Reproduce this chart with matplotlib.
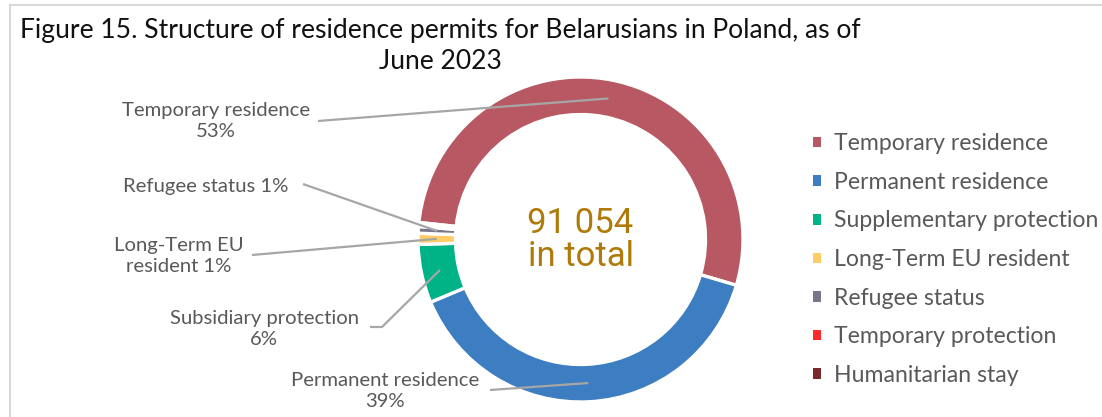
import matplotlib
matplotlib.use("Agg")
import matplotlib.pyplot as plt
import numpy as np
from matplotlib.lines import Line2D

# data
categories = ["Temporary residence", "Permanent residence", "Supplementary protection",
              "Long-Term EU resident", "Refugee status", "Temporary protection",
              "Humanitarian stay"]
counts = [48150, 35650, 5300, 1000, 600, 254, 100]
colors = ["#B85862", "#3D7DC1", "#00B386", "#FFCC66", "#777788", "#FF2A2A", "#7A2A2A"]
total_text = "91 054\nin total"
title = "Figure 15. Structure of residence permits for Belarusians in Poland, as of\nJune 2023"

# labelled slices: index -> text
slice_labels = {
    0: "Temporary residence\n53%",
    4: "Refugee status 1%",
    3: "Long-Term EU\nresident 1%",
    2: "Subsidiary protection\n6%",
    1: "Permanent residence\n39%",
}

W, H = 1102, 417
plt.rcParams['font.family'] = ['Lato', 'DejaVu Sans']
fig = plt.figure(figsize=(W / 100, H / 100), dpi=100)
ax = fig.add_axes([0, 0, 1, 1])


def Y(y):
    return H - y


cx, cy, R, ring = 580.5, Y(239.5), 162.5, 37.5
wedges, _ = ax.pie(counts, colors=colors, startangle=174, counterclock=False,
                   center=(cx, cy), radius=R,
                   wedgeprops=dict(width=ring, edgecolor="white", linewidth=2.4))
ax.set_xlim(0, W)
ax.set_ylim(0, H)
ax.set_aspect("equal")
ax.axis("off")

# text positions (px) and leader line start points
label_pos = {0: (216, 121), 4: (206, 186), 3: (179, 256), 2: (264, 329), 1: (385, 391)}
line_start = {0: [(318, 121)], 4: [(303, 184)], 3: [(252, 255)],
              2: [(370, 327), (382, 327)], 1: [(490, 390)]}

grey = "#595959"
for i, txt in slice_labels.items():
    w = wedges[i]
    mid = np.deg2rad((w.theta1 + w.theta2) / 2)
    rr = R - ring / 2
    ex, ey = cx + rr * np.cos(mid), cy + rr * np.sin(mid)
    pts = [(x, Y(y)) for x, y in line_start[i]] + [(ex, ey)]
    xs, ys = zip(*pts)
    ax.plot(xs, ys, color="#A6A6A6", lw=1.6, solid_capstyle="butt")
    lx, ly = label_pos[i]
    ax.text(lx, Y(ly), txt, ha="center", va="center", fontsize=14.6,
            color=grey, linespacing=1.25)

ax.text(cx, cy, total_text, ha="center", va="center", fontsize=25,
        color="#B07A0A", linespacing=1.0, family=["Roboto", "DejaVu Sans"])

fig.text(440 / W, 1 - 46 / H, title, ha="center", va="center", fontsize=19.1,
         color="#111111", linespacing=1.3)

leg = ax.legend(wedges, categories, loc="upper left",
                bbox_to_anchor=(804 / W, 1 - 124 / H), frameon=False,
                fontsize=16.6, handlelength=0.33, handleheight=0.33,
                handletextpad=0.55, labelspacing=0.765, borderaxespad=0)
for t in leg.get_texts():
    t.set_color(grey)
for h in leg.legend_handles:
    h.set_linewidth(0)

# chart frame (left and top edges visible)
fig.add_artist(Line2D([10 / W, 10 / W], [0, 1 - 5 / H], color="#D9D9D9", lw=1.5))
fig.add_artist(Line2D([10 / W, 1], [1 - 5 / H, 1 - 5 / H], color="#D9D9D9", lw=1.5))

fig.savefig("out.png", dpi=100)
